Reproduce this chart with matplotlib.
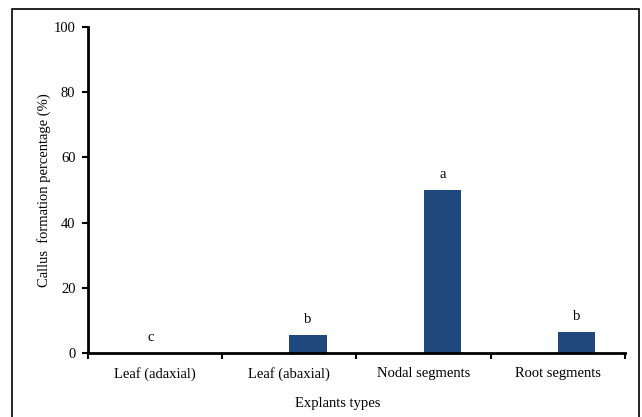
import matplotlib.pyplot as plt
from matplotlib.patches import Rectangle

explants = ['Leaf (adaxial)', 'Leaf (abaxial)', 'Nodal segments', 'Root segments']
callus = [0.0, 5.5, 50.0, 6.4]
letters = ['c', 'b', 'a', 'b']

plt.rcParams['font.family'] = ['Liberation Serif', 'DejaVu Serif']

fig = plt.figure(figsize=(6.42, 4.17), dpi=100)
ax = fig.add_axes([0.137, 0.1535, 0.8365, 0.7815])

fig.patches.append(Rectangle((0.019, -0.02), 0.976, 0.999, transform=fig.transFigure,
                             fill=False, edgecolor='black', linewidth=1.2))

w = 0.28
pos = list(range(len(explants)))
ax.bar(pos, callus, width=w, align='edge', color='#1F497D')

for i, (v, s) in enumerate(zip(callus, letters)):
    xt = i + w / 2 if v > 0 else i - 0.03
    ax.text(xt, v + 2.8, s, ha='center', va='bottom', fontsize=10.5)

ax.set_xlim(-0.5, 3.5)
ax.set_ylim(0, 100)
ax.set_yticks([0, 20, 40, 60, 80, 100])
ax.set_xticks([-0.5, 0.5, 1.5, 2.5, 3.5])
ax.set_xticklabels([])
ax.set_xticks(pos, minor=True)
ax.set_xticklabels(explants, minor=True)
ax.tick_params(axis='x', which='minor', length=0, pad=10, labelsize=10.5)
ax.tick_params(axis='x', which='major', length=4, width=1.5, direction='out')
ax.tick_params(axis='y', length=4, width=1.5, direction='out', labelsize=10.5, pad=5)

for side in ['top', 'right']:
    ax.spines[side].set_visible(False)
for side in ['left', 'bottom']:
    ax.spines[side].set_linewidth(2)

ax.set_ylabel('Callus  formation percentage (%)', fontsize=10.5)
ax.yaxis.set_label_coords(-0.068, 0.5)
ax.set_xlabel('Explants types', fontsize=10.5)
ax.xaxis.set_label_coords(0.465, -0.135)

fig.savefig('out.png', dpi=100)
